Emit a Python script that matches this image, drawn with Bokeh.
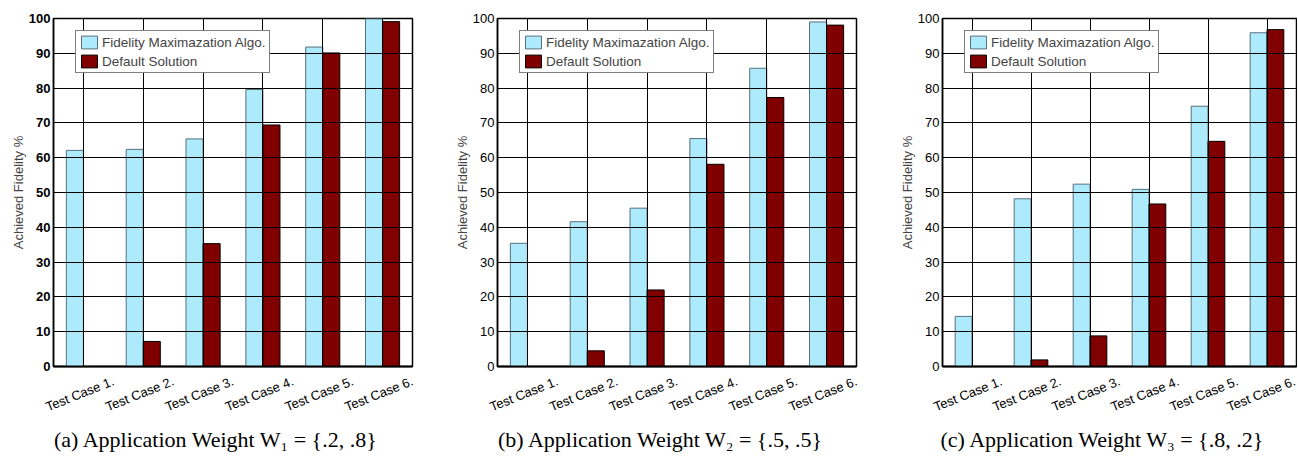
from bokeh.plotting import figure
from bokeh.layouts import row
from bokeh.models import (Range1d, LinearAxis, Grid, Title,
                          ColumnDataSource, FixedTicker)
from bokeh.transform import dodge
from bokeh.embed import file_html
from bokeh.resources import INLINE

# ---------------- data ----------------
cases = ["Test Case 1.", "Test Case 2.", "Test Case 3.",
         "Test Case 4.", "Test Case 5.", "Test Case 6."]
y_ticks = [0, 10, 20, 30, 40, 50, 60, 70, 80, 90, 100]

fma_a = [62.1, 62.4, 65.4, 79.6, 91.8, 99.9]
def_a = [0.0, 7.2, 35.3, 69.4, 90.1, 99.1]

fma_b = [35.4, 41.6, 45.5, 65.5, 85.7, 99.0]
def_b = [0.0, 4.5, 22.0, 58.1, 77.3, 98.1]

fma_c = [14.4, 48.2, 52.4, 50.9, 74.8, 95.9]
def_c = [0.0, 1.9, 8.8, 46.7, 64.7, 96.8]

series_names = ["Fidelity Maximazation Algo.", "Default Solution"]
y_label = "Achieved Fidelity %"
captions = ["(a) Application Weight W\u2081 = {.2, .8}",
            "(b) Application Weight W\u2082 = {.5, .5}",
            "(c) Application Weight W\u2083 = {.8, .2}"]

# ---------------- style ----------------
BLUE = "#ADEAFB"
BLUE_EDGE = "#56707e"
RED = "#800000"
SANS = "Liberation Sans"
SERIF = "Liberation Serif"
H = 456
FRAME_H = 348
LABEL_SHIFT = 0.5   # rotated labels are right-anchored, so anchor them right of the centre
CAP_HALF_W = 162    # approx. half width of a caption at 22px
CAP_SHIFT = -17     # captions sit slightly left of the frame centre


def make_panel(fma, dflt, caption, width, left, right, bold_ticks):
    n = len(cases)
    pos = list(range(1, n + 1))
    frame_w = width - left - right
    p = figure(x_range=Range1d(0.5, n + 0.5), y_range=Range1d(0, 100),
               width=width, height=H,
               output_backend="svg", toolbar_location=None,
               x_axis_location=None, y_axis_location="left",
               min_border_left=left, min_border_right=right,
               min_border_top=18, min_border_bottom=H - 18 - FRAME_H)
    for g in list(p.xgrid) + list(p.ygrid):
        g.visible = False
    p.outline_line_color = "black"
    p.outline_line_width = 1.5
    p.background_fill_color = "white"
    p.border_fill_color = "white"

    # left axis
    ya = p.yaxis[0]
    ya.ticker = y_ticks
    ya.minor_tick_line_color = None
    ya.major_tick_in = 5
    ya.major_tick_out = 0
    ya.major_label_standoff = 3
    ya.major_label_text_font = SANS
    ya.major_label_text_font_size = "13px"
    ya.major_label_text_color = "black"
    ya.major_label_text_font_style = "bold" if bold_ticks else "normal"
    ya.axis_line_width = 1.5
    ya.axis_label = y_label
    ya.axis_label_text_font = SANS
    ya.axis_label_text_font_size = "13px"
    ya.axis_label_text_font_style = "normal"
    ya.axis_label_standoff = 0

    # bottom axis carrying the rotated case labels
    lab_ticks = [x + LABEL_SHIFT for x in pos]
    xa = LinearAxis(ticker=FixedTicker(ticks=lab_ticks),
                    major_label_overrides={t: c for t, c in zip(lab_ticks, cases)},
                    major_label_orientation=0.38,
                    major_label_standoff=8,
                    major_label_text_font=SANS,
                    major_label_text_font_size="13px",
                    major_label_text_color="black",
                    major_tick_line_color=None,
                    minor_tick_line_color=None,
                    axis_line_width=2, axis_line_color="black")
    p.add_layout(xa, "below")

    # inward tick marks on right, top and bottom edges
    tick_y = 5 * 100 / FRAME_H
    tick_x = 5 * n / frame_w
    p.add_layout(Grid(dimension=1, ticker=FixedTicker(ticks=y_ticks),
                      bounds=(n + 0.5 - tick_x, n + 0.5), grid_line_color="black",
                      level="guide"))
    p.add_layout(Grid(dimension=0, ticker=FixedTicker(ticks=pos),
                      bounds=(100 - tick_y, 100), grid_line_color="black",
                      level="guide"))
    p.add_layout(Grid(dimension=0, ticker=FixedTicker(ticks=pos),
                      bounds=(0, tick_y), grid_line_color="black",
                      level="underlay"))

    src = ColumnDataSource(dict(pos=pos, case=cases, fma=fma, dflt=dflt))
    p.vbar(x=dodge("pos", -0.1425), top="fma", width=0.285,
           bottom=0, source=src, fill_color=BLUE, line_color=BLUE_EDGE,
           line_width=1, legend_label=series_names[0])
    p.vbar(x=dodge("pos", 0.1425), top="dflt", width=0.285,
           bottom=0, source=src, fill_color=RED, line_color="black",
           line_width=1, legend_label=series_names[1])

    lg = p.legend[0]
    lg.location = (22, FRAME_H - 14 - 41)
    lg.border_line_color = "black"
    lg.border_line_width = 1
    lg.background_fill_color = "white"
    lg.background_fill_alpha = 1.0
    lg.label_text_font = SANS
    lg.label_text_font_size = "13.5px"
    lg.glyph_width = 20
    lg.glyph_height = 16
    lg.label_height = 16
    lg.label_standoff = 3
    lg.padding = 3
    lg.spacing = 3
    lg.margin = 0

    cap = Title(text=caption, align="left",
                offset=frame_w / 2 + CAP_SHIFT - CAP_HALF_W,
                text_font=SERIF, text_font_size="22px",
                text_font_style="normal", text_color="black", standoff=0)
    p.add_layout(cap, "below")
    return p


pa = make_panel(fma_a, def_a, captions[0], 440, 53, 28, True)
pb = make_panel(fma_b, def_b, captions[1], 430, 57, 14, False)
pc = make_panel(fma_c, def_c, captions[2], 427, 72, 1, False)

layout = row(pa, pb, pc)
open("out.html", "w").write(file_html(layout, INLINE))
